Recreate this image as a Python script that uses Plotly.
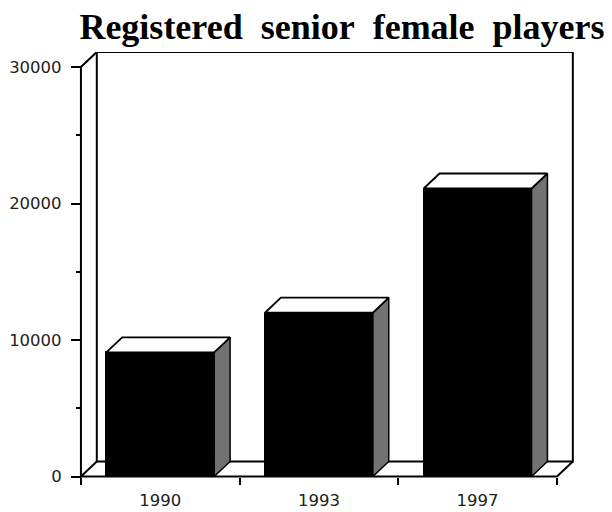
import plotly.graph_objects as go

# ---- data ----
years = ["1990", "1993", "1997"]
players = [9100, 12000, 21100]
y_ticks = [0, 10000, 20000, 30000]
title_text = "Registered senior female players"

# ---- style / geometry constants ----
BAR_W = 0.68        # front face width (category units)
DX = 0.1            # depth offset in x (category units)
DY = 1100           # depth offset in y (value units)
Y_MAX = 30000
X_MIN, X_MAX = -0.55, 2.62
Y_MIN, Y_TOP = -400, Y_MAX + DY
FIG_W, FIG_H = 604, 504   # page body adds an 8px margin

n = len(years)
xs = list(range(n))
left_edge = -0.5
right_edge = n - 0.5

fig = go.Figure()

frame_line = dict(color="black", width=2)

# back wall + floor back line
fig.add_trace(go.Scatter(
    x=[left_edge + DX, left_edge + DX, right_edge + DX, right_edge + DX, left_edge + DX],
    y=[DY, Y_MAX + DY, Y_MAX + DY, DY, DY],
    mode="lines", line=frame_line, hoverinfo="skip", showlegend=False))
# front y axis with diagonal to back corner
fig.add_trace(go.Scatter(
    x=[left_edge, left_edge, left_edge + DX],
    y=[0, Y_MAX, Y_MAX + DY],
    mode="lines", line=frame_line, hoverinfo="skip", showlegend=False))
# floor front line and diagonals
fig.add_trace(go.Scatter(
    x=[left_edge + DX, left_edge, right_edge, right_edge + DX],
    y=[DY, 0, 0, DY],
    mode="lines", line=frame_line, hoverinfo="skip", showlegend=False))

# front faces
fig.add_trace(go.Bar(
    x=xs, y=players, width=BAR_W,
    marker=dict(color="black", line=dict(color="black", width=1)),
    hoverinfo="x+y", showlegend=False))

# top and side faces
for x, v in zip(xs, players):
    l, r = x - BAR_W / 2, x + BAR_W / 2
    fig.add_trace(go.Scatter(
        x=[r, r + DX, r + DX, r, r],
        y=[0, DY, v + DY, v, 0],
        fill="toself", fillcolor="#727272", mode="lines",
        line=dict(color="black", width=1.5), hoverinfo="skip", showlegend=False))
    fig.add_trace(go.Scatter(
        x=[l, r, r + DX, l + DX, l],
        y=[v, v, v + DY, v + DY, v],
        fill="toself", fillcolor="white", mode="lines",
        line=dict(color="black", width=1.8), hoverinfo="skip", showlegend=False))

y_tick_font = dict(family="DejaVu Sans, Liberation Sans, Arial", size=16.5, color="#222")
x_tick_font = dict(family="DejaVu Sans, Liberation Sans, Arial", size=16.5, color="#222")

fig.update_layout(
    width=FIG_W, height=FIG_H,
    margin=dict(l=65, r=36, t=44, b=30, autoexpand=False),
    paper_bgcolor="white", plot_bgcolor="white",
    bargap=0,
    title=dict(
        text="<b>" + title_text.replace(" ", "\u2002") + "</b>",
        font=dict(family="Liberation Serif, Times New Roman, serif", size=36, color="black"),
        x=334 / FIG_W, xanchor="center", xref="container",
        y=1 - 18 / FIG_H, yanchor="middle", yref="container"),
    xaxis=dict(
        range=[X_MIN, X_MAX], showgrid=False, zeroline=False, showline=False,
        automargin=False,
        tickmode="array", tickvals=xs, ticktext=years, ticks="",
        tickfont=x_tick_font, ticklabelstandoff=12,
        minor=dict(tickmode="array", tickvals=[i - 0.5 for i in range(n + 1)],
                   ticks="outside", ticklen=7, tickwidth=2, tickcolor="black", showgrid=False),
        anchor="free", position=(0 - Y_MIN) / (Y_TOP - Y_MIN),
        fixedrange=True),
    yaxis=dict(
        range=[Y_MIN, Y_TOP], showgrid=False, zeroline=False, showline=False,
        automargin=False,
        tickmode="array", tickvals=y_ticks, ticktext=[str(t) for t in y_ticks],
        ticks="outside", ticklen=10, tickwidth=2, tickcolor="black",
        tickfont=y_tick_font, ticklabelstandoff=6,
        minor=dict(tickmode="linear", tick0=0, dtick=5000,
                   ticks="outside", ticklen=5, tickwidth=2, tickcolor="black", showgrid=False),
        anchor="free", position=(left_edge - X_MIN) / (X_MAX - X_MIN),
        fixedrange=True),
)

fig.write_html("out.html")
